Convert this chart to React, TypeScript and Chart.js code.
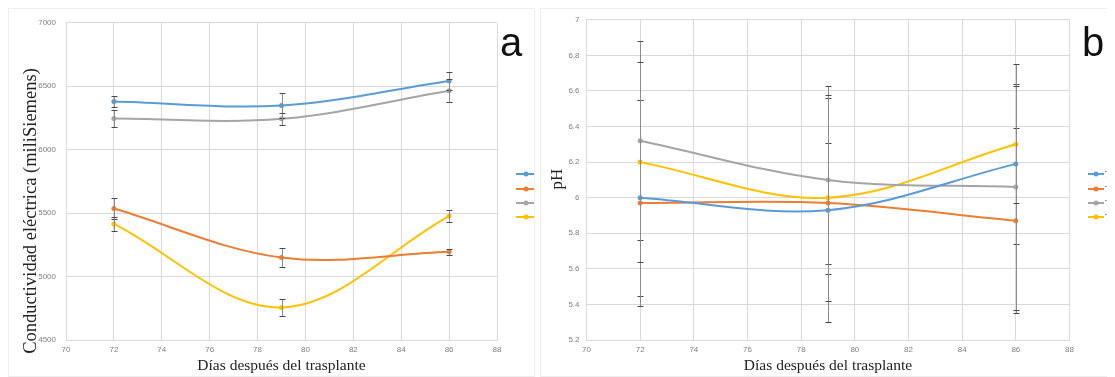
import React, { useEffect, useRef } from "react";
import { Chart, registerables } from "chart.js";

Chart.register(...registerables);

// ---------- data ----------
const DAYS = [72, 79, 86];
const SERIES_NAMES = ["T1", "T2", "T3", "T4"];
const COLORS = ["#5B9BD5", "#ED7D31", "#A5A5A5", "#FFC000"];

// (a) Conductividad eléctrica
const EC_T1 = [6380, 6348, 6542];
const EC_T2 = [5536, 5150, 5195];
const EC_T3 = [6245, 6243, 6464];
const EC_T4 = [5415, 4757, 5477];
const EC_ERR_T1 = [40, 95, 70];
const EC_ERR_T2 = [80, 75, 25];
const EC_ERR_T3 = [70, 50, 90];
const EC_ERR_T4 = [55, 65, 45];

// (b) pH
const PH_T1 = [6.0, 5.93, 6.19];
const PH_T2 = [5.97, 5.97, 5.87];
const PH_T3 = [6.32, 6.1, 6.06];
const PH_T4 = [6.2, 6.0, 6.3];
const PH_ERR_T1 = [0.55, 0.63, 0.45];
const PH_ERR_T2 = [0.58, 0.34, 0.52];
const PH_ERR_T3 = [0.56, 0.53, 0.69];
const PH_ERR_T4 = [0.56, 0.58, 0.33];

const X_MIN = 70;
const X_MAX = 88;
const X_STEP = 2;

const X_TITLE = "Días después del trasplante";
const EC_TITLE = "Conductividad eléctrica (miliSiemens)";
const PH_TITLE = "pH";

type PanelCfg = {
  values: number[][];
  errors: number[][];
  yMin: number;
  yMax: number;
  yStep: number;
  yTitle: string;
  yTitleX: number;
  yTitleY: number;
  yTitleSize: number;
  yAxisWidth: number;
  yTickPad: number;
  rightPad: number;
  topPad: number;
  legendX: number;
  legendLine: number;
  legendY: number[];
  letter: string;
  letterX: number;
  letterY: number;
};

function makeOverlay(cfg: PanelCfg) {
  return {
    id: "overlay",
    afterDatasetsDraw(chart: any) {
      const ctx = chart.ctx;
      const xs = chart.scales.x;
      const ys = chart.scales.y;
      ctx.save();
      ctx.lineWidth = 1;
      chart.data.datasets.forEach((ds: any) => {
        const errs: number[] = ds.errors;
        ds.data.forEach((p: any, j: number) => {
          const x = Math.round(xs.getPixelForValue(p.x)) + 0.5;
          const yt = Math.round(ys.getPixelForValue(p.y + errs[j])) + 0.5;
          const yb = Math.round(ys.getPixelForValue(p.y - errs[j])) + 0.5;
          ctx.strokeStyle = "#8c8c8c";
          ctx.beginPath();
          ctx.moveTo(x, yt);
          ctx.lineTo(x, yb);
          ctx.stroke();
          ctx.strokeStyle = "#4a4a4a";
          ctx.beginPath();
          ctx.moveTo(x - 3, yt);
          ctx.lineTo(x + 3, yt);
          ctx.moveTo(x - 3, yb);
          ctx.lineTo(x + 3, yb);
          ctx.stroke();
        });
      });
      ctx.restore();
    },
    afterDraw(chart: any) {
      const ctx = chart.ctx;
      ctx.save();
      chart.data.datasets.forEach((ds: any, i: number) => {
        const y = cfg.legendY[i];
        ctx.strokeStyle = ds.borderColor;
        ctx.lineWidth = 2;
        ctx.beginPath();
        ctx.moveTo(cfg.legendX, y);
        ctx.lineTo(cfg.legendX + cfg.legendLine, y);
        ctx.stroke();
        ctx.fillStyle = ds.borderColor;
        ctx.beginPath();
        ctx.arc(cfg.legendX + cfg.legendLine / 2, y, 2.5, 0, Math.PI * 2);
        ctx.fill();
        ctx.fillStyle = "#404040";
        ctx.font = "9px 'Liberation Serif'";
        ctx.textBaseline = "middle";
        ctx.fillText(ds.label, cfg.legendX + cfg.legendLine + 1, y + 0.5);
      });
      // y axis title
      ctx.save();
      ctx.translate(cfg.yTitleX, cfg.yTitleY);
      ctx.rotate(-Math.PI / 2);
      ctx.fillStyle = "#222";
      ctx.font = cfg.yTitleSize + "px 'Liberation Serif'";
      ctx.textAlign = "center";
      ctx.textBaseline = "middle";
      ctx.fillText(cfg.yTitle, 0, 0);
      ctx.restore();
      // panel letter
      ctx.fillStyle = "#111";
      ctx.font = "40px 'Liberation Sans'";
      ctx.textBaseline = "alphabetic";
      ctx.fillText(cfg.letter, cfg.letterX, cfg.letterY);
      ctx.restore();
    },
  };
}

function Panel({ cfg, left, width }: { cfg: PanelCfg; left: number; width: number }) {
  const ref = useRef<HTMLCanvasElement | null>(null);
  useEffect(() => {
    if (!ref.current) return;
    const datasets = cfg.values.map((vals, i) => ({
      label: SERIES_NAMES[i],
      data: DAYS.map((d, j) => ({ x: d, y: vals[j] })),
      errors: cfg.errors[i],
      borderColor: COLORS[i],
      backgroundColor: COLORS[i],
      borderWidth: 2,
      pointRadius: 2.5,
      pointBorderWidth: 0,
      pointBackgroundColor: COLORS[i],
      tension: 0.35,
      fill: false,
    }));
    const gridColor = "#d9d9d9";
    const chart = new Chart(ref.current, {
      type: "line",
      data: { datasets } as any,
      options: {
        animation: false,
        responsive: false,
        maintainAspectRatio: false,
        layout: { padding: { top: cfg.topPad, right: cfg.rightPad, left: 0, bottom: 0 } },
        plugins: { legend: { display: false }, tooltip: { enabled: false } },
        scales: {
          x: {
            type: "linear",
            min: X_MIN,
            max: X_MAX,
            ticks: {
              stepSize: X_STEP,
              color: "#7f7f7f",
              font: { family: "'Liberation Sans'", size: 8 },
              padding: 5,
              maxRotation: 0,
            },
            grid: { color: gridColor, drawTicks: false, lineWidth: 1 },
            border: { color: gridColor },
            title: {
              display: true,
              text: X_TITLE,
              color: "#222",
              font: { family: "'Liberation Serif'", size: 15.5 },
              padding: { top: 0, bottom: 2 },
            },
            afterFit: (s: any) => {
              s.height = 37;
            },
          },
          y: {
            type: "linear",
            min: cfg.yMin,
            max: cfg.yMax,
            ticks: {
              stepSize: cfg.yStep,
              color: "#7f7f7f",
              font: { family: "'Liberation Sans'", size: 8 },
              padding: cfg.yTickPad,
              callback: (v: any) => String(Number(Number(v).toFixed(1))),
            },
            grid: { color: gridColor, drawTicks: false, lineWidth: 1 },
            border: { color: gridColor },
            title: { display: false },
            afterFit: (s: any) => {
              s.width = cfg.yAxisWidth;
            },
          },
        },
      } as any,
      plugins: [makeOverlay(cfg)],
    });
    return () => chart.destroy();
  }, []);
  return (
    <div
      style={{
        position: "absolute",
        left,
        top: 0,
        width,
        height: 369,
        overflow: "hidden",
        boxSizing: "border-box",
        border: "1px solid #eeeeee",
        background: "#fff",
      }}
    >
      <canvas ref={ref} width={width} height={369} style={{ position: "absolute", left: -1, top: -1 }} />
    </div>
  );
}

const CFG_A: PanelCfg = {
  values: [EC_T1, EC_T2, EC_T3, EC_T4],
  errors: [EC_ERR_T1, EC_ERR_T2, EC_ERR_T3, EC_ERR_T4],
  yMin: 4500,
  yMax: 7000,
  yStep: 500,
  yTitle: EC_TITLE,
  yTitleX: 23,
  yTitleY: 203,
  yTitleSize: 18.5,
  yAxisWidth: 58,
  yTickPad: 10,
  rightPad: 38,
  topPad: 9.5,
  legendX: 508,
  legendLine: 20,
  legendY: [166, 181, 195, 209],
  letter: "a",
  letterX: 492,
  letterY: 48,
};

const CFG_B: PanelCfg = {
  values: [PH_T1, PH_T2, PH_T3, PH_T4],
  errors: [PH_ERR_T1, PH_ERR_T2, PH_ERR_T3, PH_ERR_T4],
  yMin: 5.2,
  yMax: 7,
  yStep: 0.2,
  yTitle: PH_TITLE,
  yTitleX: 18,
  yTitleY: 171,
  yTitleSize: 17,
  yAxisWidth: 46.5,
  yTickPad: 7,
  rightPad: 45.5,
  topPad: 9,
  legendX: 548,
  legendLine: 16,
  legendY: [166, 181, 195, 209],
  letter: "b",
  letterX: 542,
  letterY: 48,
};

export default function App() {
  return (
    <div style={{ position: "relative", width: 1107, height: 369, background: "#fff" }}>
      <Panel cfg={CFG_A} left={0} width={527} />
      <Panel cfg={CFG_B} left={532} width={575} />
    </div>
  );
}
